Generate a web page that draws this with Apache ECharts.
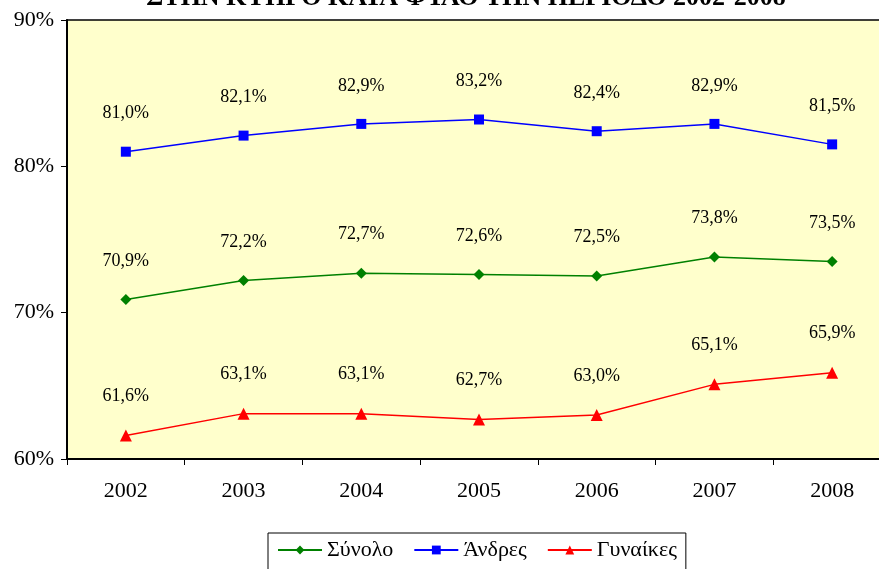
<!DOCTYPE html>
<html>
<head>
<meta charset="utf-8">
<script src="https://cdn.jsdelivr.net/npm/echarts@6/dist/echarts.min.js"></script>
<style>
  html, body { margin: 0; padding: 0; background: #fff; }
</style>
</head>
<body>
<div id="myChart1" style="width: 879px; height: 569px;"></div>
<script>
// δεδομένα
const years = ['2002', '2003', '2004', '2005', '2006', '2007', '2008']
const synolo = [70.9, 72.2, 72.7, 72.6, 72.5, 73.8, 73.5]
const andres = [81.0, 82.1, 82.9, 83.2, 82.4, 82.9, 81.5]
const gynaikes = [61.6, 63.1, 63.1, 62.7, 63.0, 65.1, 65.9]
const titleText = 'ΣΤΗΝ ΚΥΠΡΟ ΚΑΤΑ ΦΥΛΟ ΤΗΝ ΠΕΡΙΟΔΟ 2002-2008'

const serif = '"Liberation Serif", "DejaVu Serif", serif'
const fmt = v => v.toFixed(1).replace('.', ',') + '%'

function makeSeries(name, data, color, symbol, size) {
  return {
    name: name,
    type: 'line',
    data: data,
    symbol: symbol,
    symbolSize: size,
    showAllSymbol: true,
    lineStyle: { color: color, width: 1.5 },
    itemStyle: { color: color },
    label: {
      show: true,
      position: 'top',
      distance: 24,
      fontFamily: serif,
      fontSize: 18,
      color: '#000',
      formatter: p => fmt(p.value)
    },
    emphasis: { disabled: true },
    animation: false
  }
}

const myChart1 = echarts.init(document.getElementById('myChart1'))
myChart1.setOption({
  backgroundColor: '#fff',
  title: {
    text: titleText,
    left: 461,
    textAlign: 'center',
    top: -20,
    textStyle: { fontFamily: serif, fontSize: 26, fontWeight: 'bold', color: '#000' }
  },
  grid: {
    left: 67,
    top: 20,
    width: 824,
    height: 439,
    outerBoundsMode: 'none',
    containLabel: false,
    show: true,
    backgroundColor: '#FFFFCC',
    borderColor: '#000',
    borderWidth: 1.5
  },
  legend: {
    top: 533,
    left: 268,
    backgroundColor: '#fff',
    borderColor: '#000',
    borderWidth: 1,
    padding: [6, 9, 12, 9],
    itemWidth: 44,
    itemHeight: 11,
    itemGap: 20,
    textStyle: { fontFamily: serif, fontSize: 22, color: '#000' },
    data: ['Σύνολο', 'Άνδρες', 'Γυναίκες']
  },
  xAxis: {
    type: 'category',
    data: years,
    boundaryGap: true,
    axisLine: { lineStyle: { color: '#000', width: 2 } },
    axisTick: { show: true, length: 6, inside: false, lineStyle: { color: '#000' } },
    axisLabel: { fontFamily: serif, fontSize: 22, color: '#000', margin: 21 }
  },
  yAxis: {
    type: 'value',
    min: 60,
    max: 90,
    interval: 10,
    splitLine: { show: false },
    axisLine: { show: true, lineStyle: { color: '#000', width: 2 } },
    axisTick: { show: true, length: 6, lineStyle: { color: '#000' } },
    axisLabel: { fontFamily: serif, fontSize: 22, color: '#000', margin: 13, formatter: v => v + '%' }
  },
  series: [
    makeSeries('Σύνολο', synolo, '#008000', 'diamond', 11),
    makeSeries('Άνδρες', andres, '#0000FF', 'rect', 10),
    makeSeries('Γυναίκες', gynaikes, '#FF0000', 'triangle', 12)
  ]
})
window.addEventListener('resize', () => { myChart1.resize() })
</script>
</body>
</html>
